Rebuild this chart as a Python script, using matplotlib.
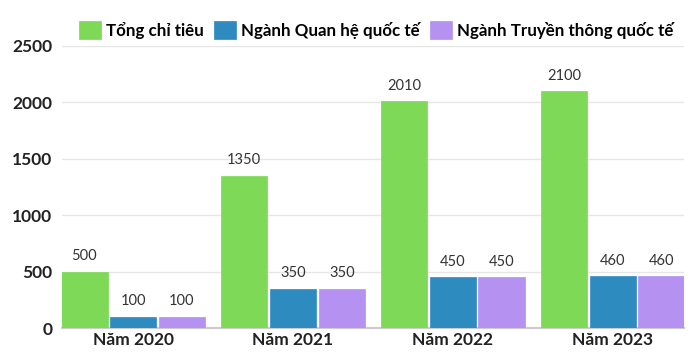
import numpy as np
import matplotlib
matplotlib.use("Agg")
import matplotlib.pyplot as plt

years = ["Năm 2020", "Năm 2021", "Năm 2022", "Năm 2023"]
series_names = ["Tổng chỉ tiêu", "Ngành Quan hệ quốc tế", "Ngành Truyền thông quốc tế"]
tong = [500, 1350, 2010, 2100]
qhqt = [100, 350, 450, 460]
ttqt = [100, 350, 450, 460]
colors = ["#7ed957", "#2e8bc0", "#b591f2"]

plt.rcParams['font.family'] = ['Lato', 'DejaVu Sans']

fig = plt.figure(figsize=(7, 3.61), dpi=100)
ax = fig.add_axes([0.0886, 0.0914, 0.977 - 0.0886, 0.8726 - 0.0914])

x = np.arange(len(years))
w = 0.29
step = 0.305
for i, (vals, name, c) in enumerate(zip([tong, qhqt, ttqt], series_names, colors)):
    bars = ax.bar(x + (i - 1) * step, vals, width=w, color=c, label=name,
                  edgecolor=c, linewidth=0.5, zorder=3)
    for b, v in zip(bars, vals):
        ax.text(b.get_x() + b.get_width() / 2, v + 75, str(v), ha='center',
                va='bottom', fontsize=10.5, color='#333333')

ax.set_xlim(-0.445, 3.445)
ax.set_ylim(0, 2500)
ax.set_yticks([0, 500, 1000, 1500, 2000, 2500])
ax.set_xticks(x)
ax.set_xticklabels(years, fontsize=12.5, fontweight='bold', color='#222222')
for lab in ax.get_yticklabels():
    lab.set_fontsize(12.5)
    lab.set_fontweight('bold')
    lab.set_color('#222222')
ax.tick_params(axis='both', length=0)
ax.tick_params(axis='y', pad=7)
ax.tick_params(axis='x', pad=3)
ax.grid(axis='y', color='#e6e6e6', linewidth=1, zorder=0)
for s in ['top', 'right', 'left']:
    ax.spines[s].set_visible(False)
ax.spines['bottom'].set_color('#cccccc')
ax.spines['bottom'].set_linewidth(1.5)

fig.legend(loc='upper center', bbox_to_anchor=(0.537, 0.985), ncol=3, frameon=False,
           handlelength=1.3, handleheight=1.3, handletextpad=0.3,
           columnspacing=0.6, prop={'size': 12.2, 'weight': 'bold'})

fig.savefig("out.png", dpi=100)
